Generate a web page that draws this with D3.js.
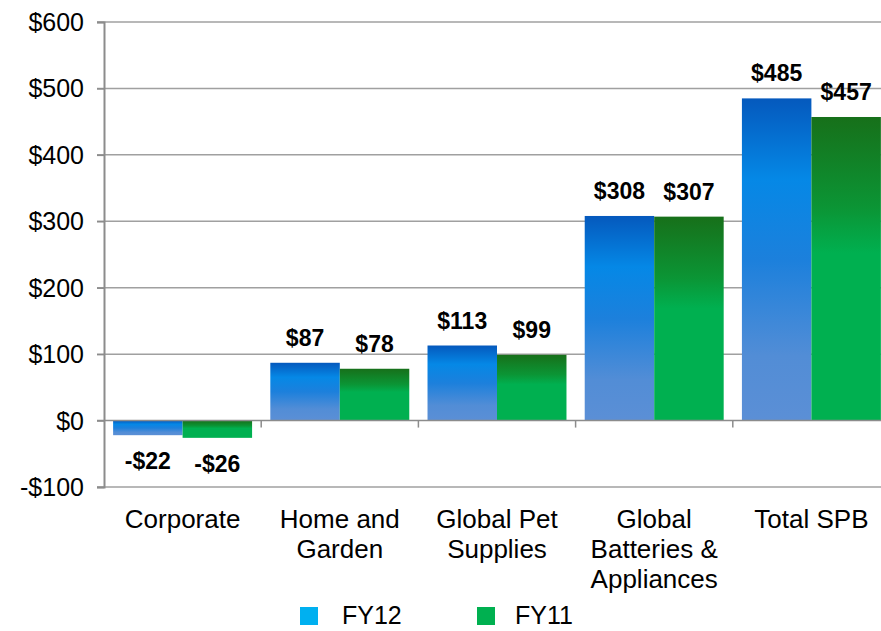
<!DOCTYPE html>
<html><head><meta charset="utf-8">
<script src="https://cdn.jsdelivr.net/npm/d3@7/dist/d3.min.js"></script>
<style>
html,body{margin:0;padding:0;background:#fff;overflow:hidden}
text{font-family:"Liberation Sans",Arial,sans-serif}
</style></head>
<body>
<svg id="c" width="881" height="631"></svg>
<script>
const categories = [["Corporate"],["Home and","Garden"],["Global Pet","Supplies"],["Global","Batteries &","Appliances"],["Total SPB"]];
const seriesNames = ["FY12","FY11"];
const fy12 = [-22, 87, 113, 308, 485];
const fy11 = [-26, 78, 99, 307, 457];
const yTicks = [-100, 0, 100, 200, 300, 400, 500, 600];
const legendColors = ["#00b0f0", "#00b050"];

const svg = d3.select("#c");
const W = 881, H = 631;
const x0 = 104, x1 = 890, yTop = 22, yBot = 487;
const catKeys = categories.map(c => c.join(" "));
const x = d3.scaleBand().domain(catKeys).range([x0, x1]).paddingInner(0.116).paddingOuter(0.058);
const xs = d3.scaleBand().domain(seriesNames).range([0, x.bandwidth()]);
const y = d3.scaleLinear().domain([-100, 600]).range([yBot, yTop]);

const defs = svg.append("defs");
const gb = defs.append("linearGradient").attr("id","gBlue").attr("x1",0).attr("y1",0).attr("x2",0).attr("y2",1);
[[0,"#0559bd"],[0.25,"#0588e6"],[0.5,"#1c80dc"],[0.8,"#528dd6"],[1,"#5b8fd6"]].forEach(s=>gb.append("stop").attr("offset",s[0]).attr("stop-color",s[1]));
const gg = defs.append("linearGradient").attr("id","gGreen").attr("x1",0).attr("y1",0).attr("x2",0).attr("y2",1);
[[0,"#17701a"],[0.3,"#0b9535"],[0.45,"#00b050"],[1,"#00b050"]].forEach(s=>gg.append("stop").attr("offset",s[0]).attr("stop-color",s[1]));
const fills = ["url(#gBlue)","url(#gGreen)"];

// gridlines
svg.append("g").selectAll("line").data(yTicks.filter(t=>t!==0)).join("line")
  .attr("x1", x0-7).attr("x2", W).attr("y1", d=>y(d)).attr("y2", d=>y(d))
  .attr("stroke","#a0a0a0").attr("stroke-width",1.5);

// y axis
const yAxis = d3.axisLeft(y).tickValues(yTicks).tickSize(7).tickPadding(13)
  .tickFormat(d => (d<0?"-$":"$") + Math.abs(d));
const ga = svg.append("g").attr("transform",`translate(${x0},0)`).call(yAxis);
ga.select(".domain").attr("stroke","#8c8c8c").attr("stroke-width",2);
ga.selectAll(".tick line").attr("stroke","#8c8c8c").attr("stroke-width",1.5);
ga.selectAll(".tick text").attr("font-size",25).attr("fill","#000").attr("dy","0.34em");

// bars
const data = catKeys.map((k,i)=>({k, vals:[fy12[i], fy11[i]]}));
const groups = svg.append("g").selectAll("g").data(data).join("g")
  .attr("transform", d=>`translate(${x(d.k)},0)`);
groups.selectAll("rect").data(d=>d.vals.map((v,j)=>({v,j}))).join("rect")
  .attr("x", d=>xs(seriesNames[d.j])).attr("width", xs.bandwidth())
  .attr("y", d=>y(Math.max(0,d.v))).attr("height", d=>Math.abs(y(d.v)-y(0)))
  .attr("fill", d=>fills[d.j]);
groups.selectAll("text").data(d=>d.vals.map((v,j)=>({v,j}))).join("text")
  .attr("x", d=>xs(seriesNames[d.j]) + xs.bandwidth()/2)
  .attr("y", d=> d.v>=0 ? y(d.v)-17 : y(d.v)+34)
  .attr("text-anchor","middle").attr("font-weight","bold").attr("font-size",23)
  .text(d=>(d.v<0?"-$":"$")+Math.abs(d.v));

// zero axis line with ticks
const x0Axis = svg.append("g");
x0Axis.append("line").attr("x1", x0-7).attr("x2", W).attr("y1", y(0)).attr("y2", y(0))
  .attr("stroke","#8c8c8c").attr("stroke-width",1.5);
const bounds = catKeys.slice(1).map(k => x(k) - x.step()*x.paddingInner()/2);
x0Axis.selectAll("line.t").data(bounds).join("line").attr("class","t")
  .attr("x1", d=>d).attr("x2", d=>d).attr("y1", y(0)).attr("y2", y(0)+7)
  .attr("stroke","#8c8c8c").attr("stroke-width",1.5);

// category labels
svg.append("g").selectAll("text").data(categories).join("text")
  .attr("x", (d,i)=>x(catKeys[i]) + x.bandwidth()/2)
  .attr("y", 528)
  .attr("text-anchor","middle").attr("font-size",26).attr("fill","#000")
  .selectAll("tspan").data(d=>d).join("tspan")
  .attr("x", function(){ return d3.select(this.parentNode).attr("x"); })
  .attr("dy", (d,i)=> i===0 ? 0 : 30)
  .text(d=>d);

// legend
const legX = [300, 477], legTX = [342, 515];
const lg = svg.append("g");
seriesNames.forEach((s,i)=>{
  lg.append("rect").attr("x",legX[i]).attr("y",607).attr("width",18).attr("height",18).attr("fill",legendColors[i]);
  lg.append("text").attr("x",legTX[i]).attr("y",624).attr("font-size",25).attr("fill","#000").text(s);
});
</script>
</body></html>
